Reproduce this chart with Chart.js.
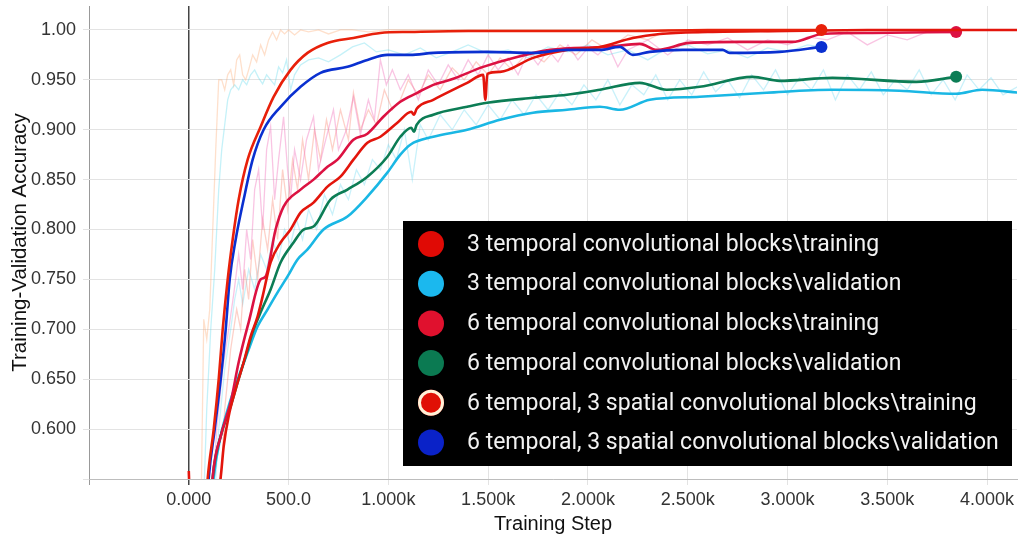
<!DOCTYPE html>
<html>
<head>
<meta charset="utf-8">
<title>Training-Validation Accuracy</title>
<script src="https://cdn.jsdelivr.net/npm/chart.js@4.4.1/dist/chart.umd.min.js"></script>
<style>
  html, body { margin: 0; padding: 0; background: #fff; }
  #wrap { position: relative; width: 1023px; height: 542px; }
</style>
</head>
<body>
<div id="wrap"><canvas id="accChart"></canvas></div>
<script>
// legend entries (order as in the black box)
const legendLabels = [
    '3 temporal convolutional blocks\\training',
    '3 temporal convolutional blocks\\validation',
    '6 temporal convolutional blocks\\training',
    '6 temporal convolutional blocks\\validation',
    '6 temporal, 3 spatial convolutional blocks\\training',
    '6 temporal, 3 spatial convolutional blocks\\validation'
];
const legendColors = ['#e00a05', '#1bb8ee', '#e0112e', '#0b7a52', '#e01005', '#0a22c8'];
const lineColors = ['#e3150c', '#1ab7e4', '#dc1242', '#0c7d55', '#e8200a', '#0a30d0'];

// axis ticks
const xTicks = [-500, 0, 500, 1000, 1500, 2000, 2500, 3000, 3500, 4000];
const yTicks = [0.55, 0.60, 0.65, 0.70, 0.75, 0.80, 0.85, 0.90, 0.95, 1.00];

// smoothed curves, [step, accuracy]
const t3Train = [[0,0.558],[30,0.40],[160,0.552],[175,0.583],[200,0.613],[235,0.64],[275,0.667],[310,0.693],[345,0.713],[370,0.733],[410,0.767],[460,0.787],[510,0.80],[560,0.817],[625,0.827],[695,0.843],[760,0.853],[825,0.87],[895,0.887],[960,0.893],[1045,0.907],[1115,0.918],[1128,0.915],[1142,0.921],[1225,0.93],[1395,0.947],[1475,0.955],[1486,0.93],[1496,0.956],[1560,0.958],[1725,0.972],[1895,0.98],[2060,0.983],[2225,0.992],[2360,0.996],[2600,0.998],[3000,0.999],[3400,1.0],[3800,1.0],[4170,1.0]];
const t3Val = [[85,0.45],[125,0.552],[160,0.593],[200,0.623],[245,0.65],[295,0.677],[345,0.703],[395,0.72],[445,0.737],[495,0.753],[545,0.77],[595,0.78],[675,0.80],[795,0.813],[895,0.833],[995,0.857],[1060,0.875],[1110,0.885],[1225,0.893],[1395,0.90],[1560,0.91],[1725,0.917],[1895,0.92],[2060,0.923],[2160,0.92],[2310,0.93],[2560,0.933],[2895,0.937],[3225,0.94],[3560,0.939],[3845,0.936],[3975,0.94],[4170,0.937]];
const t6Train = [[90,0.45],[120,0.552],[160,0.593],[210,0.627],[250,0.667],[300,0.707],[360,0.75],[385,0.753],[435,0.80],[475,0.823],[560,0.84],[625,0.85],[695,0.863],[745,0.87],[825,0.89],[895,0.896],[975,0.913],[1060,0.928],[1145,0.937],[1225,0.945],[1310,0.95],[1475,0.963],[1645,0.973],[1810,0.98],[2095,0.983],[2260,0.986],[2345,0.98],[2510,0.987],[2760,0.988],[3025,0.988],[3175,0.996],[3425,0.997],[3845,0.998]];
const t6Val = [[80,0.45],[120,0.552],[135,0.573],[170,0.60],[210,0.623],[245,0.647],[285,0.673],[320,0.697],[360,0.717],[410,0.74],[460,0.767],[525,0.787],[575,0.80],[625,0.803],[710,0.83],[795,0.84],[895,0.853],[995,0.873],[1060,0.893],[1115,0.902],[1128,0.898],[1142,0.905],[1225,0.915],[1395,0.923],[1495,0.927],[1725,0.932],[1895,0.935],[2060,0.94],[2260,0.947],[2395,0.94],[2560,0.943],[2825,0.953],[2960,0.949],[3225,0.952],[3645,0.948],[3845,0.953]];
const t6s3Train = [[60,0.45],[95,0.551],[125,0.60],[150,0.65],[170,0.70],[195,0.75],[220,0.79],[250,0.83],[295,0.87],[360,0.903],[425,0.933],[510,0.96],[595,0.977],[695,0.987],[825,0.992],[960,0.997],[1110,0.998],[1400,0.999],[1800,0.999],[2200,0.999],[2600,1.0],[3000,1.0],[3170,1.0]];
const t6s3Val = [[70,0.45],[100,0.551],[130,0.60],[160,0.65],[185,0.70],[205,0.75],[235,0.79],[275,0.83],[320,0.87],[375,0.90],[460,0.923],[560,0.943],[660,0.957],[795,0.963],[895,0.97],[995,0.975],[1110,0.975],[1225,0.977],[1495,0.978],[1725,0.977],[1895,0.98],[2060,0.98],[2160,0.983],[2225,0.975],[2310,0.978],[2475,0.98],[2675,0.98],[2710,0.977],[2960,0.978],[3170,0.983]];

// raw (unsmoothed) curves drawn faintly behind
const rawT6s3Train = [[60,0.50],[75,0.71],[90,0.69],[105,0.72],[120,0.80],[135,0.88],[150,0.95],[165,0.95],[180,0.94],[195,0.955],[210,0.96],[225,0.945],[240,0.97],[255,0.975],[270,0.955],[285,0.95],[300,0.96],[320,0.975],[340,0.968],[360,0.985],[380,0.975],[400,0.99],[420,0.998],[440,0.99],[460,1.0],[480,0.996],[500,1.0],[530,0.995],[560,1.0],[600,0.998],[650,1.0],[700,0.996],[760,1.0],[820,1.0],[900,0.998],[1000,1.0],[1500,1.0],[2000,1.0],[2500,1.0],[3170,1.0]];
const rawT6s3Val = [[70,0.50],[90,0.62],[110,0.70],[130,0.76],[150,0.84],[165,0.88],[180,0.905],[195,0.93],[210,0.94],[230,0.945],[250,0.94],[270,0.95],[290,0.945],[310,0.955],[330,0.96],[350,0.952],[370,0.946],[390,0.955],[410,0.95],[430,0.945],[450,0.963],[470,0.957],[490,0.97],[500,0.955],[510,0.94],[530,0.955],[560,0.965],[600,0.97],[650,0.972],[700,0.968],[760,0.975],[820,0.983],[880,0.987],[940,0.978],[1000,0.98],[1080,0.975],[1160,0.982],[1240,0.972],[1320,0.978],[1400,0.985],[1500,0.976],[1600,0.98],[1700,0.972],[1800,0.983],[1900,0.978],[2000,0.985],[2100,0.975],[2200,0.98],[2300,0.97],[2400,0.982],[2500,0.985],[2600,0.976],[2700,0.98],[2800,0.972],[2900,0.982],[3000,0.978],[3100,0.985],[3170,0.983]];
const rawT6Train = [[110,0.50],[140,0.60],[170,0.66],[200,0.70],[225,0.735],[250,0.775],[270,0.74],[290,0.80],[310,0.77],[330,0.84],[350,0.86],[370,0.80],[390,0.88],[410,0.903],[430,0.83],[450,0.87],[475,0.913],[495,0.86],[510,0.83],[530,0.88],[560,0.85],[590,0.89],[625,0.913],[650,0.86],[680,0.885],[725,0.92],[750,0.88],[790,0.90],[825,0.933],[860,0.895],[900,0.93],[930,0.91],[960,0.97],[990,0.945],[1020,0.96],[1060,0.94],[1100,0.955],[1150,0.93],[1200,0.96],[1250,0.945],[1300,0.965],[1350,0.95],[1400,0.97],[1450,0.955],[1500,0.975],[1550,0.96],[1600,0.972],[1650,0.955],[1700,0.978],[1750,0.965],[1800,0.98],[1850,0.968],[1900,0.985],[1950,0.97],[2000,0.982],[2050,0.975],[2100,0.985],[2150,0.963],[2200,0.98],[2300,0.99],[2400,0.975],[2500,0.99],[2600,0.985],[2700,0.992],[2800,0.98],[2900,0.99],[3000,0.985],[3100,0.993],[3200,0.99],[3300,0.998],[3400,0.985],[3500,0.995],[3600,0.99],[3700,0.998],[3845,0.997]];
const rawT3Train = [[150,0.50],[180,0.62],[210,0.68],[240,0.72],[260,0.70],[280,0.76],[300,0.73],[320,0.79],[345,0.75],[370,0.81],[395,0.78],[420,0.83],[445,0.79],[470,0.86],[495,0.82],[520,0.87],[545,0.84],[570,0.89],[600,0.85],[630,0.90],[660,0.87],[690,0.91],[720,0.88],[760,0.92],[800,0.89],[825,0.937],[860,0.90],[900,0.92],[940,0.905],[980,0.94],[1020,0.92],[1060,0.93],[1100,0.95],[1150,0.935],[1200,0.955],[1260,0.94],[1320,0.962],[1380,0.95],[1440,0.968],[1500,0.955],[1560,0.972],[1620,0.96],[1700,0.978],[1780,0.968],[1860,0.985],[1940,0.975],[2020,0.99],[2100,0.98],[2200,0.995],[2300,0.99],[2400,1.0],[2550,0.997],[2700,1.0],[2900,0.998],[3100,1.0],[3500,1.0],[4170,1.0]];
const rawT3Val = [[120,0.50],[150,0.60],[180,0.66],[210,0.70],[230,0.73],[250,0.75],[270,0.725],[300,0.76],[330,0.74],[360,0.775],[390,0.76],[420,0.79],[450,0.77],[480,0.80],[510,0.785],[540,0.81],[570,0.79],[600,0.82],[640,0.80],[680,0.835],[720,0.815],[760,0.845],[800,0.83],[840,0.86],[880,0.845],[920,0.87],[960,0.86],[1000,0.885],[1040,0.87],[1080,0.90],[1120,0.85],[1160,0.905],[1200,0.89],[1260,0.915],[1320,0.90],[1380,0.92],[1440,0.905],[1500,0.925],[1560,0.91],[1620,0.93],[1680,0.915],[1740,0.935],[1800,0.92],[1860,0.938],[1920,0.925],[1980,0.945],[2040,0.93],[2100,0.95],[2160,0.925],[2220,0.945],[2280,0.935],[2340,0.955],[2400,0.93],[2460,0.95],[2520,0.935],[2580,0.958],[2640,0.938],[2700,0.95],[2760,0.932],[2820,0.955],[2880,0.94],[2940,0.96],[3000,0.935],[3060,0.952],[3120,0.94],[3180,0.96],[3240,0.93],[3300,0.955],[3360,0.94],[3420,0.958],[3480,0.935],[3540,0.95],[3600,0.94],[3660,0.96],[3720,0.935],[3780,0.95],[3840,0.93],[3900,0.955],[3960,0.94],[4020,0.952],[4080,0.935],[4170,0.945]];

const toXY = arr => arr.map(p => ({ x: p[0], y: p[1] }));

function smoothSet(label, arr, color, endDot) {
    return {
        label: label,
        data: toXY(arr),
        borderColor: color,
        backgroundColor: color,
        borderWidth: 2.6,
        cubicInterpolationMode: 'monotone',
        pointRadius: ctx => (endDot && ctx.dataIndex === ctx.dataset.data.length - 1) ? 6 : 0,
        pointHoverRadius: 0,
        pointBorderWidth: 0,
        order: 0
    };
}

function rawSet(arr, color) {
    return {
        label: '',
        data: toXY(arr),
        borderColor: color,
        borderWidth: 1.3,
        pointRadius: 0,
        pointHoverRadius: 0,
        order: 1
    };
}

// black legend box in the lower right of the plot
const legendBox = {
    id: 'legendBox',
    afterDraw(chart) {
        const { ctx, chartArea } = chart;
        const w = 609, h = 245;
        const x0 = chartArea.right - 5 - w;
        const y0 = chartArea.bottom - 13 - h;
        ctx.save();
        ctx.fillStyle = '#000';
        ctx.fillRect(x0, y0, w, h);
        ctx.font = "23px Roboto, 'Noto Sans', sans-serif";
        ctx.textBaseline = 'middle';
        legendLabels.forEach((lab, i) => {
            const cy = y0 + 23 + i * 39.7;
            ctx.beginPath();
            ctx.arc(x0 + 28, cy, 13, 0, Math.PI * 2);
            ctx.fillStyle = legendColors[i];
            ctx.fill();
            if (i === 4) {
                ctx.lineWidth = 3;
                ctx.strokeStyle = '#fff2d8';
                ctx.beginPath();
                ctx.arc(x0 + 28, cy, 11.5, 0, Math.PI * 2);
                ctx.stroke();
            }
            ctx.fillStyle = '#f2f2f2';
            ctx.fillText(lab, x0 + 64, cy + 1);
        });
        ctx.restore();
    }
};

document.addEventListener('DOMContentLoaded', () => {
    Chart.defaults.font.family = "'Liberation Sans', Arial, sans-serif";

    const ctx = document.getElementById('accChart').getContext('2d');

    new Chart(ctx, {
        type: 'line',
        data: {
            datasets: [
                smoothSet(legendLabels[4], t6s3Train, lineColors[4], true),
                smoothSet(legendLabels[5], t6s3Val, lineColors[5], true),
                smoothSet(legendLabels[0], t3Train, lineColors[0], false),
                smoothSet(legendLabels[2], t6Train, lineColors[2], true),
                smoothSet(legendLabels[3], t6Val, lineColors[3], true),
                smoothSet(legendLabels[1], t3Val, lineColors[1], false),
                rawSet(rawT6s3Train, 'rgba(252,165,110,0.35)'),
                rawSet(rawT6s3Val, 'rgba(90,215,235,0.35)'),
                rawSet(rawT6Train, 'rgba(240,110,185,0.40)'),
                rawSet(rawT3Train, 'rgba(250,140,120,0.40)'),
                rawSet(rawT3Val, 'rgba(100,215,240,0.35)')
            ]
        },
        options: {
            responsive: true,
            maintainAspectRatio: false,
            animation: false,
            layout: { padding: { top: 6, right: 5, left: 0, bottom: 0 } },
            plugins: {
                legend: { display: false },
                tooltip: { enabled: false }
            },
            scales: {
                x: {
                    type: 'linear',
                    min: -500,
                    max: 4150,
                    afterBuildTicks: axis => { axis.ticks = xTicks.map(v => ({ value: v })); },
                    afterFit: axis => { axis.height = 63; axis.paddingLeft = 0; axis.paddingRight = 0; },
                    border: { display: true, color: '#bdbdbd', width: 1 },
                    grid: {
                        color: c => c.tick.value === 0 ? '#444' : (c.tick.value === -500 ? '#999' : '#e3e3e3'),
                        lineWidth: c => c.tick.value === 0 ? 1.5 : 1,
                        tickLength: 6
                    },
                    ticks: {
                        autoSkip: false,
                        maxRotation: 0,
                        padding: 4,
                        color: '#333',
                        font: { size: 18 },
                        callback: v => {
                            if (v < 0) return '';
                            if (v === 0) return '0.000';
                            if (v < 1000) return v.toFixed(1);
                            return (v / 1000).toFixed(3) + 'k';
                        }
                    },
                    title: {
                        display: true,
                        text: 'Training Step',
                        color: '#111',
                        font: { size: 20 },
                        padding: { top: 0, bottom: 6 }
                    }
                },
                y: {
                    min: 0.55,
                    max: 1.024,
                    afterBuildTicks: axis => { axis.ticks = yTicks.map(v => ({ value: v })); },
                    afterFit: axis => { axis.width = 89; axis.paddingTop = 0; axis.paddingBottom = 0; },
                    border: { display: false },
                    grid: { color: '#e3e3e3', tickLength: 6 },
                    ticks: {
                        padding: 7,
                        color: '#333',
                        font: { size: 18 },
                        callback: v => {
                            if (Math.abs(v - 0.55) < 1e-6) return '';
                            if (Math.abs(v - 1) < 1e-6) return '1.00';
                            return v.toFixed(3);
                        }
                    },
                    title: {
                        display: true,
                        text: 'Training-Validation Accuracy',
                        color: '#111',
                        font: { size: 20.5 },
                        padding: { top: 8, bottom: 0 }
                    }
                }
            }
        },
        plugins: [legendBox]
    });
});
</script>
</body>
</html>
